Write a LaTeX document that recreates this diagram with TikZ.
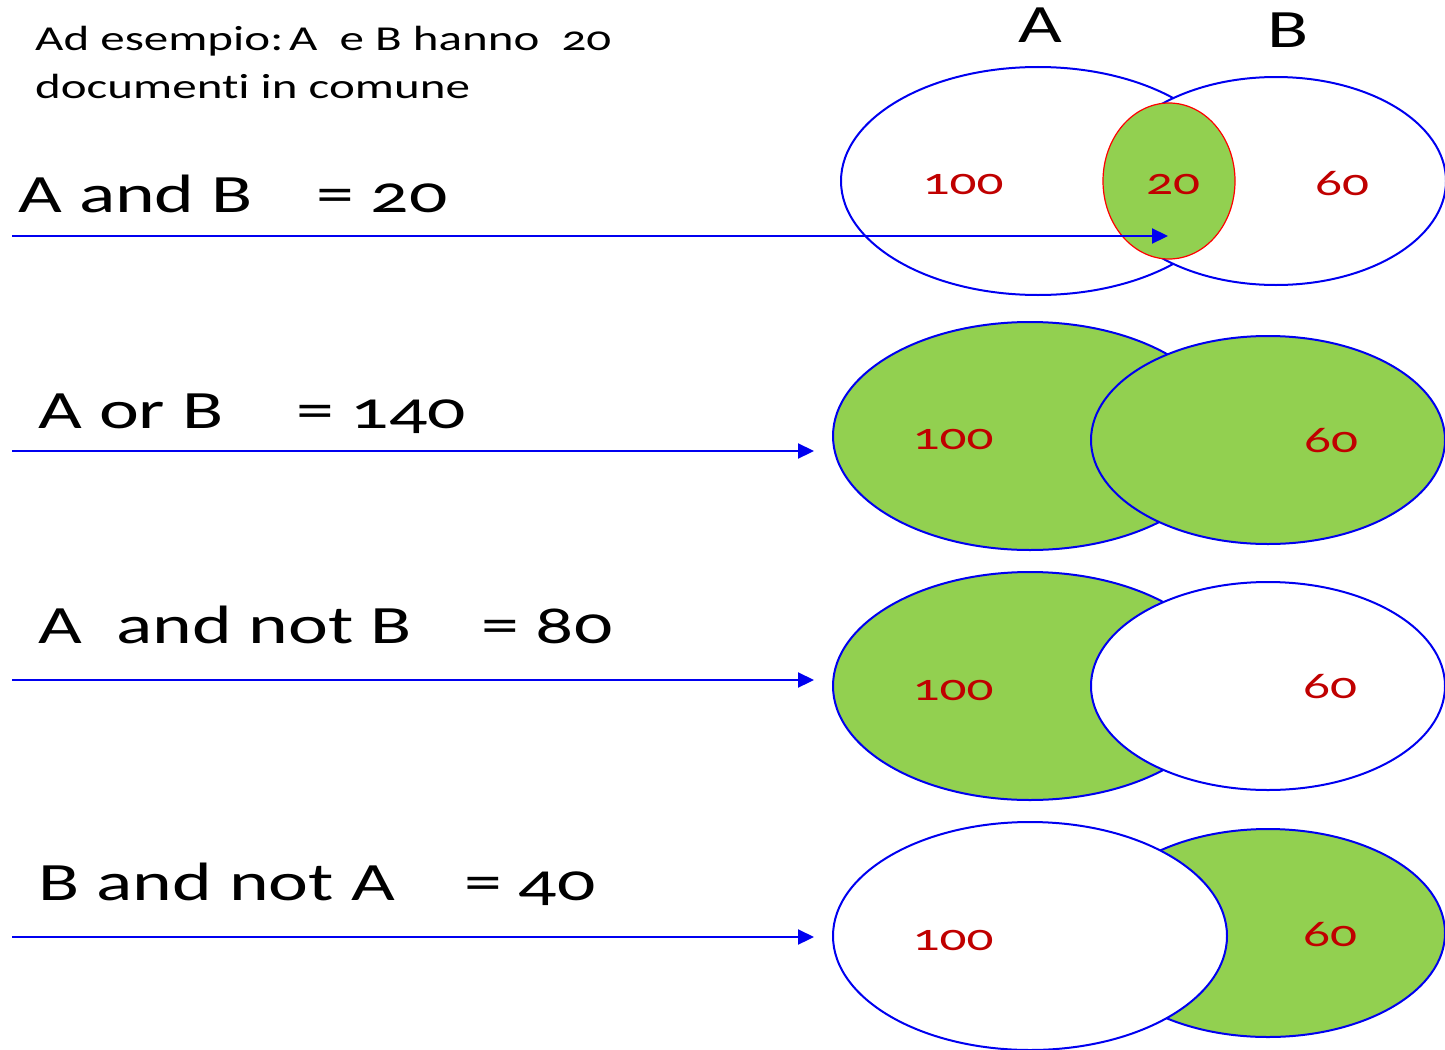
\documentclass[tikz,border=0pt]{standalone}
\usepackage{fontspec}
\setmainfont{Carlito}
\newfontfamily\slidefont[FakeStretch=1.4,Numbers=OldStyle,Ligatures=NoCommon]{Carlito}
\usetikzlibrary{arrows.meta,shapes.geometric}
\definecolor{vgreen}{HTML}{92D050}
\definecolor{vred}{HTML}{C00000}
\definecolor{vblue}{HTML}{0000F0}
\begin{document}
\begin{tikzpicture}[x=1pt,y=-1pt,
  setA/.style={draw=vblue, line width=2pt, ellipse, inner sep=0pt, minimum width=394pt, minimum height=228pt},
  setB/.style={draw=vblue, line width=2pt, ellipse, inner sep=0pt, minimum width=354pt, minimum height=208pt},
  lens/.style={draw=red, line width=1.2pt, fill=vgreen, ellipse, inner sep=0pt, minimum width=132pt, minimum height=156pt},
  num/.style={text=vred, font=\slidefont\fontsize{38}{40}\selectfont, inner sep=0pt},
  biglab/.style={anchor=base west, inner sep=0pt, font=\slidefont\fontsize{54}{60}\selectfont},
  smalllab/.style={anchor=base west, inner sep=0pt, font=\slidefont\fontsize{35}{40}\selectfont},
  conn/.style={draw=vblue, line width=2.2pt, -{Triangle[length=16pt,width=15pt]}}]
\useasboundingbox (0,0) rectangle (1445,1049);
\fill[white] (0,0) rectangle (1445,1049);

% top text
\node[smalllab] (t1) at (35,51) {Ad esempio:\,A~~e B~hanno~~20};
\node[smalllab] (t2) at (35,98) {documenti in comune};
\node[biglab] (hA) at (1018,43) {A};
\node[biglab] (hB) at (1267,48) {B};

% row 1
\node[setA, fill=white] (A1) at (1038,181) {};
\node[setB, fill=white, minimum width=340pt] (B1) at (1276,181) {};
\node[lens] (L1) at (1169,181) {};
\node[num] (n1a) at (963,184) {100};
\node[num] (n1c) at (1173,184) {20};
\node[num] (n1b) at (1342,184) {60};
\node[biglab] (l1) at (18,212) {A and B};
\node[biglab] (r1) at (316,212) {= 20};

% row 2
\node[setA, fill=vgreen] (A2) at (1030,436) {};
\node[setB, fill=vgreen] (B2) at (1268,440) {};
\node[num] (n2a) at (953,439) {100};
\node[num] (n2b) at (1331,441) {60};
\node[biglab] (l2) at (38,428) {A or B};
\node[biglab] (r2) at (296,428) {= 140};

% row 3
\node[setA, fill=vgreen] (A3) at (1030,686) {};
\node[setB, fill=white] (B3) at (1268,686) {};
\node[num] (n3a) at (953,690) {100};
\node[num] (n3b) at (1330,687) {60};
\node[biglab] (l3) at (38,643) {A~~and not B};
\node[biglab] (r3) at (481,643) {= 80};

% row 4
\node[setB, fill=vgreen] (B4) at (1268,933) {};
\node[setA, fill=white] (A4) at (1030,936) {};
\node[num] (n4a) at (953,940) {100};
\node[num] (n4b) at (1330,935) {60};
\node[biglab] (l4) at (38,900) {B and not A};
\node[biglab] (r4) at (464,900) {= 40};

% connectors
\coordinate (s1) at (12,236); \coordinate (e1) at (1168,236);
\coordinate (s2) at (12,451); \coordinate (e2) at (814,451);
\coordinate (s3) at (12,680); \coordinate (e3) at (814,680);
\coordinate (s4) at (12,937); \coordinate (e4) at (814,937);
\draw[conn] (s1) -- (e1);
\draw[conn] (s2) -- (e2);
\draw[conn] (s3) -- (e3);
\draw[conn] (s4) -- (e4);
\end{tikzpicture}
\end{document}
